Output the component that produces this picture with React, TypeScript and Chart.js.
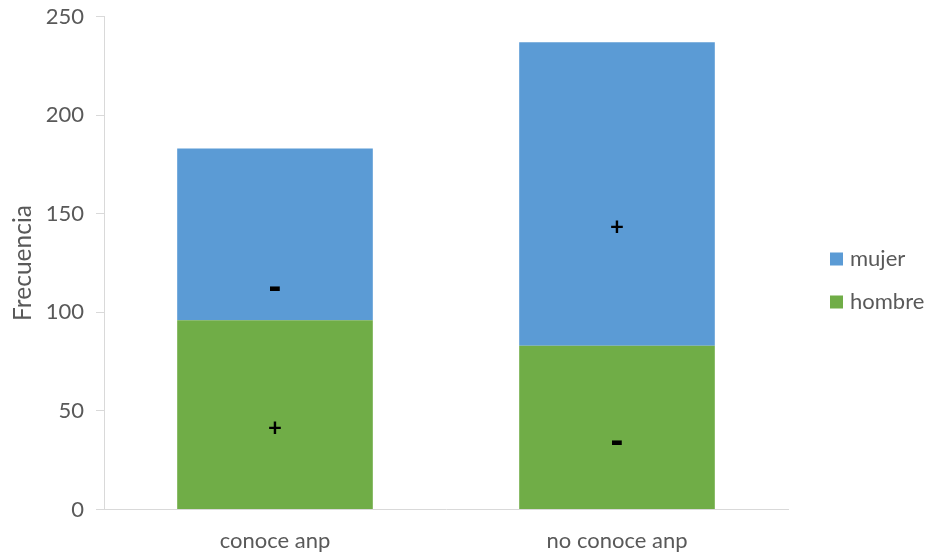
import React, { useEffect, useRef } from "react";
import { Chart, registerables } from "chart.js";

Chart.register(...registerables);

const categories = ["conoce anp", "no conoce anp"];
const hombreValues = [96, 83];
const mujerValues = [87, 154];
const hombreSigns = ["+", "-"];
const mujerSigns = ["-", "+"];
const hombreSignAt = [41.6, 34.2];
const mujerSignAt = [112.3, 143.6];
const yTicks = [0, 50, 100, 150, 200, 250];

const FONT = "Lato, 'Open Sans', sans-serif";
const TEXT = "#595959";
const AXIS = "#D9D9D9";

const signPlugin = {
  id: "signs",
  afterDatasetsDraw(chart: any) {
    const ctx = chart.ctx;
    const y = chart.scales.y;
    const groups = [
      { signs: hombreSigns, at: hombreSignAt, ds: 0 },
      { signs: mujerSigns, at: mujerSignAt, ds: 1 },
    ];
    ctx.save();
    ctx.fillStyle = "#000000";
    ctx.textAlign = "center";
    ctx.textBaseline = "alphabetic";
    groups.forEach((g) => {
      const meta = chart.getDatasetMeta(g.ds);
      g.signs.forEach((s, i) => {
        const el = meta.data[i];
        const py = y.getPixelForValue(g.at[i]);
        ctx.font = s === "-" ? `bold 32px 'DejaVu Sans'` : `bold 24px ${FONT}`;
        const m = ctx.measureText(s);
        const asc = m.actualBoundingBoxAscent;
        const desc = m.actualBoundingBoxDescent;
        const base = py + (asc - desc) / 2;
        ctx.fillText(s, el.x, base);
      });
    });
    ctx.restore();
  },
};

const legendPlugin = {
  id: "customLegend",
  afterDraw(chart: any) {
    const ctx = chart.ctx;
    const ds = chart.data.datasets;
    const order = [1, 0];
    const x0 = chart.chartArea.right + 42;
    const midY = (chart.chartArea.top + chart.chartArea.bottom) / 2;
    const rowGap = 43;
    ctx.save();
    ctx.font = `22px ${FONT}`;
    ctx.textBaseline = "middle";
    ctx.textAlign = "left";
    order.forEach((di, k) => {
      const cy = midY - 4 + k * rowGap;
      ctx.fillStyle = ds[di].backgroundColor;
      ctx.fillRect(x0, cy - 6.5, 13, 13);
      ctx.fillStyle = TEXT;
      ctx.fillText(ds[di].label, x0 + 20, cy);
    });
    ctx.restore();
  },
};

export default function App() {
  const ref = useRef<HTMLCanvasElement | null>(null);
  useEffect(() => {
    document.body.style.margin = "0";
    const chart = new Chart(ref.current as HTMLCanvasElement, {
      type: "bar",
      data: {
        labels: categories,
        datasets: [
          {
            label: "hombre",
            data: hombreValues,
            backgroundColor: "#70AD47",
            borderWidth: 0,
            categoryPercentage: 1,
            barPercentage: 0.572,
          },
          {
            label: "mujer",
            data: mujerValues,
            backgroundColor: "#5B9BD5",
            borderWidth: 0,
            categoryPercentage: 1,
            barPercentage: 0.572,
          },
        ],
      },
      options: {
        animation: false,
        responsive: false,
        maintainAspectRatio: false,
        layout: { padding: { left: 0, top: 16.5, right: 141, bottom: 0 } },
        plugins: {
          legend: { display: false },
          tooltip: { enabled: false },
          title: { display: false },
        },
        scales: {
          x: {
            stacked: true,
            grid: { display: false, drawTicks: false },
            border: { display: true, color: AXIS, width: 1 },
            ticks: { color: TEXT, font: { family: FONT, size: 22 }, padding: 18 },
            afterFit: (s: any) => {
              s.height = 46.5;
              s.paddingLeft = 0;
              s.paddingRight = 0;
            },
          },
          y: {
            stacked: true,
            min: 0,
            max: 250,
            afterBuildTicks: (s: any) => {
              s.ticks = yTicks.map((v) => ({ value: v }));
            },
            grid: {
              display: true,
              drawOnChartArea: false,
              drawTicks: true,
              tickLength: 8,
              color: AXIS,
            },
            border: { display: true, color: AXIS, width: 1 },
            ticks: { color: TEXT, font: { family: FONT, size: 22 }, padding: 12 },
            title: {
              display: true,
              text: "Frecuencia",
              color: TEXT,
              font: { family: FONT, size: 24.5, weight: "normal" },
              padding: { top: 8, bottom: 0 },
            },
            afterFit: (s: any) => {
              s.width = 104;
              s.paddingTop = 0;
              s.paddingBottom = 0;
            },
          },
        },
      },
      plugins: [signPlugin, legendPlugin],
    });
    return () => chart.destroy();
  }, []);
  return (
    <div style={{ width: 929, height: 556 }}>
      <canvas ref={ref} width={929} height={556} style={{ display: "block" }} />
    </div>
  );
}
